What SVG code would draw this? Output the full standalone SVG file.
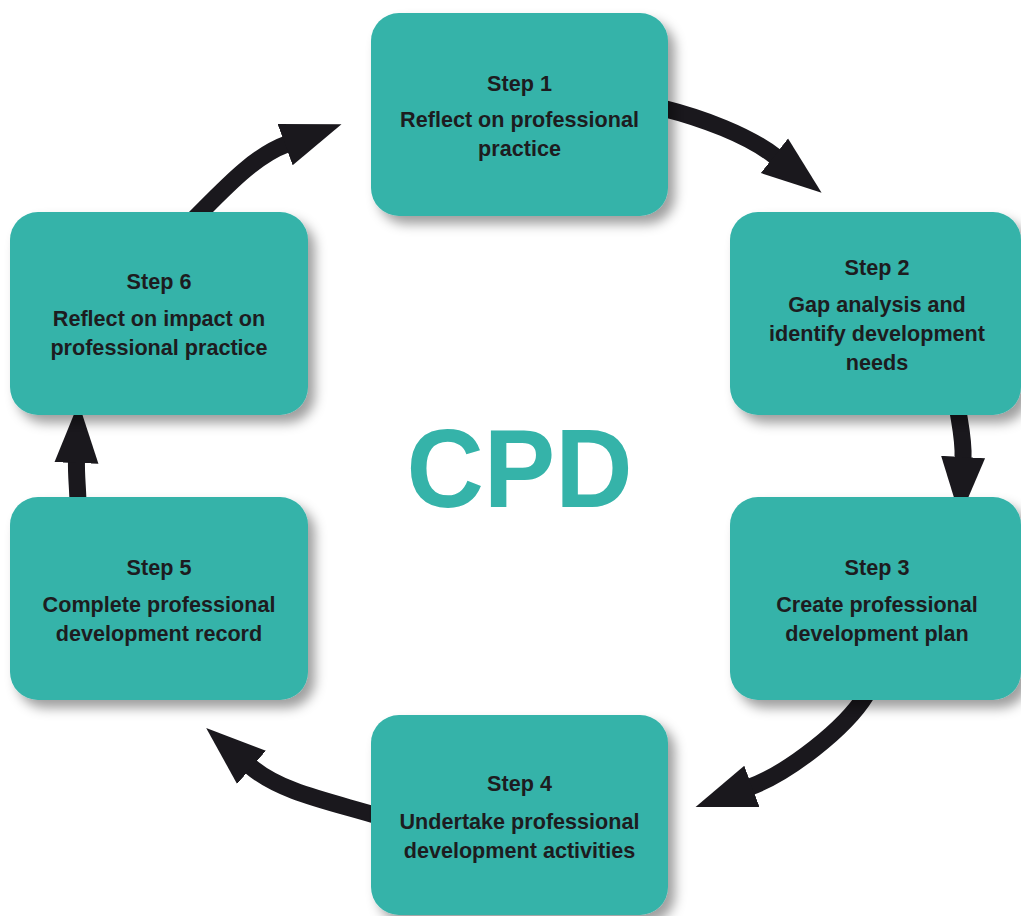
<svg xmlns="http://www.w3.org/2000/svg" width="1021" height="916" viewBox="0 0 1021 916">
<style>
.box{fill:#35b3a9;filter:url(#sh)}
.t{font-family:"Liberation Sans",Arial,sans-serif;font-weight:bold;font-size:21.6px;fill:#1d1c20;text-anchor:middle}
.cpd{font-family:"Liberation Sans",Arial,sans-serif;font-weight:bold;font-size:112px;fill:#35b3a9;text-anchor:middle}
.arr{fill:none;stroke:#1a181d;stroke-width:17;marker-end:url(#head)}
</style>
<defs>
<filter id="sh" x="-10%" y="-10%" width="130%" height="135%">
<feDropShadow dx="7" dy="8" stdDeviation="6" flood-color="#000" flood-opacity="0.38"/>
</filter>
<marker id="head" markerUnits="userSpaceOnUse" markerWidth="62" markerHeight="46" refX="2" refY="23" orient="auto" viewBox="0 0 62 46">
<path d="M0,1 L60,23 L0,45 z" fill="#1a181d"/>
</marker>
</defs>
<rect width="1021" height="916" fill="#fff"/>
<g id="connectors">
<path class="arr" d="M662,108 C702,118 748,135 776,157"/>
<path class="arr" d="M957,405 C960,425 964,440 963,459"/>
<path class="arr" d="M866,695 C845,729 788,773 750,787"/>
<path class="arr" d="M378,816 C328,801 280,792 250,766"/>
<path class="arr" d="M78,505 C78,490 76,475 76.5,461"/>
<path class="arr" d="M195,218 C225,188 254,156 287,144"/>
</g>
<g id="step1">
<rect class="box" x="371" y="13" width="297" height="203" rx="28"/>
<text class="t" x="519.5" y="91">Step 1</text>
<text class="t" x="519.5" y="127">Reflect on professional</text>
<text class="t" x="519.5" y="156">practice</text>
</g>
<g id="step2">
<rect class="box" x="730" y="212" width="291" height="203" rx="28"/>
<text class="t" x="877" y="275">Step 2</text>
<text class="t" x="877" y="312">Gap analysis and</text>
<text class="t" x="877" y="341">identify development</text>
<text class="t" x="877" y="370">needs</text>
</g>
<g id="step3">
<rect class="box" x="730" y="497" width="291" height="203" rx="28"/>
<text class="t" x="877" y="575">Step 3</text>
<text class="t" x="877" y="612">Create professional</text>
<text class="t" x="877" y="641">development plan</text>
</g>
<g id="step4">
<rect class="box" x="371" y="715" width="297" height="200" rx="28"/>
<text class="t" x="519.5" y="791">Step 4</text>
<text class="t" x="519.5" y="829">Undertake professional</text>
<text class="t" x="519.5" y="858">development activities</text>
</g>
<g id="step5">
<rect class="box" x="10" y="497" width="298" height="203" rx="28"/>
<text class="t" x="159" y="575">Step 5</text>
<text class="t" x="159" y="612">Complete professional</text>
<text class="t" x="159" y="641">development record</text>
</g>
<g id="step6">
<rect class="box" x="10" y="212" width="298" height="203" rx="28"/>
<text class="t" x="159" y="289">Step 6</text>
<text class="t" x="159" y="326">Reflect on impact on</text>
<text class="t" x="159" y="355">professional practice</text>
</g>
<text class="cpd" x="519.5" y="507" textLength="226" lengthAdjust="spacingAndGlyphs">CPD</text>
</svg>
